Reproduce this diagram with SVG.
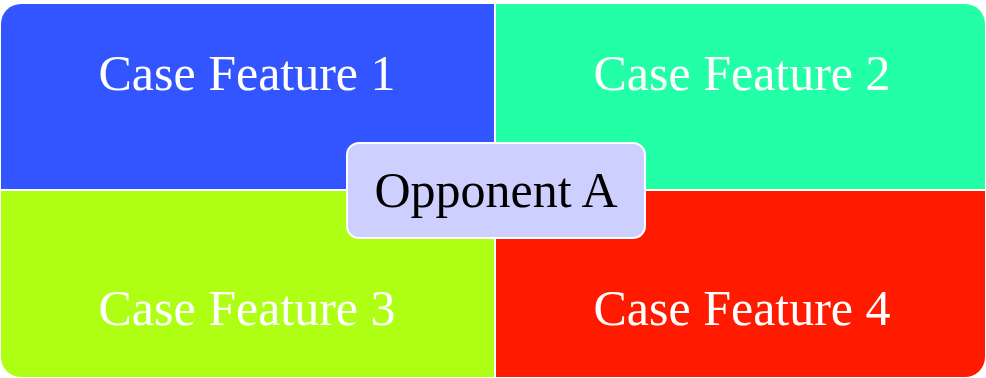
<svg xmlns="http://www.w3.org/2000/svg" width="986" height="378" viewBox="0 0 986 378">
<style>
.lbl{font-family:"Liberation Serif","Times New Roman",serif;font-size:50px;fill:#fff;text-anchor:middle}
.ctr{font-family:"Liberation Serif","Times New Roman",serif;font-size:50px;fill:#000;text-anchor:middle}
</style>
<rect width="986" height="378" fill="#fff"/>
<g id="feature1"><path d="M1,24 A20,20 0 0 1 21,4 H494 V189 H1 Z" fill="#3355FF"/><text class="lbl" x="247" y="90">Case Feature 1</text></g>
<g id="feature2"><path d="M496,4 H965 A20,20 0 0 1 985,24 V189 H496 Z" fill="#22FFA6"/><text class="lbl" x="742" y="90">Case Feature 2</text></g>
<g id="feature3"><path d="M1,191 H494 V377 H21 A20,20 0 0 1 1,357 Z" fill="#AEFF14"/><text class="lbl" x="247" y="325">Case Feature 3</text></g>
<g id="feature4"><path d="M496,191 H985 V357 A20,20 0 0 1 965,377 H496 Z" fill="#FF1A00"/><text class="lbl" x="742" y="325">Case Feature 4</text></g>
<g id="opponent"><rect x="347" y="143" width="298" height="95" rx="12" fill="#CDD0FF" stroke="#fff" stroke-width="2"/><text class="ctr" x="496" y="207">Opponent A</text></g>
<g id="connectors"></g>
</svg>
